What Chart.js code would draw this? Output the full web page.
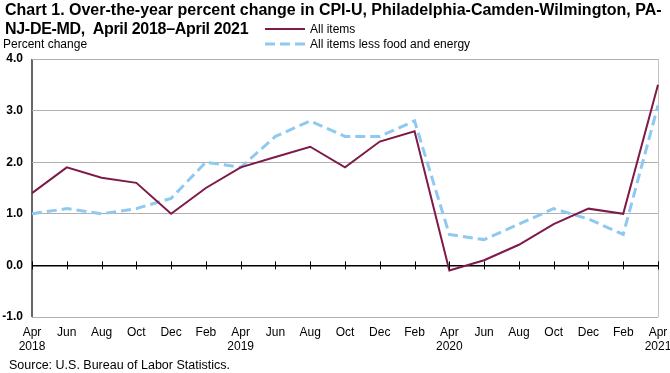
<!DOCTYPE html>
<html>
<head>
<meta charset="utf-8">
<script src="https://cdn.jsdelivr.net/npm/chart.js@4/dist/chart.umd.min.js"></script>
<style>
  body { margin: 0; background: #fff; font-family: "Liberation Sans", Arial, sans-serif; color: #000; }
  #wrap { position: relative; width: 670px; height: 373px; overflow: hidden; }
  #chart { position: absolute; left: 0; top: 0; }
  .title { position: absolute; left: 5px; top: 0px; font-weight: bold; font-size: 16px; line-height: 19px; white-space: nowrap; }
  .title span { letter-spacing: -0.3px; }
  .ylab { position: absolute; left: 3px; top: 37px; font-size: 12px; }
  .source { position: absolute; left: 9px; top: 358px; font-size: 12.5px; }
  #legend { position: absolute; left: 265px; top: 21px; font-size: 12px; }
  #legend .row { height: 15px; display: flex; align-items: center; }
  #legend canvas { margin-right: 5px; }
</style>
</head>
<body>
<div id="wrap">
  <canvas id="chart" width="670" height="373"></canvas>
  <div class="title">Chart 1. Over-the-year percent change in CPI-U, Philadelphia-Camden-Wilmington, PA-<br><span>NJ-DE-MD,&nbsp; April 2018–April 2021</span></div>
  <div class="ylab">Percent change</div>
  <div id="legend"></div>
  <div class="source">Source: U.S. Bureau of Labor Statistics.</div>
</div>
<script>
// ---------------- DATA ----------------
const categories = [
  ["Apr", "2018"], "Jun", "Aug", "Oct", "Dec", "Feb",
  ["Apr", "2019"], "Jun", "Aug", "Oct", "Dec", "Feb",
  ["Apr", "2020"], "Jun", "Aug", "Oct", "Dec", "Feb",
  ["Apr", "2021"]
];
const allItems = [1.4, 1.9, 1.7, 1.6, 1.0, 1.5, 1.9, 2.1, 2.3, 1.9, 2.4, 2.6, -0.1, 0.1, 0.4, 0.8, 1.1, 1.0, 3.5];
const lessFoodEnergy = [1.0, 1.1, 1.0, 1.1, 1.3, 2.0, 1.9, 2.5, 2.8, 2.5, 2.5, 2.8, 0.6, 0.5, 0.8, 1.1, 0.9, 0.6, 3.1];
const yTicks = [-1, 0, 1, 2, 3, 4];

// tick marks across the zero line
const zeroTicks = {
  id: "zeroTicks",
  afterDatasetsDraw(chart) {
    const { ctx, scales: { x, y } } = chart;
    const y0 = y.getPixelForValue(0);
    ctx.save();
    ctx.strokeStyle = "#000";
    ctx.lineWidth = 1;
    categories.forEach((c, i) => {
      const px = Math.round(x.getPixelForValue(i)) + 0.5;
      ctx.beginPath();
      ctx.moveTo(px, y0 - 4);
      ctx.lineTo(px, y0 + 4);
      ctx.stroke();
    });
    ctx.restore();
  }
};

const chart = new Chart(document.getElementById("chart").getContext("2d"), {
  type: "line",
  data: {
    labels: categories,
    datasets: [
      {
        label: "All items",
        data: allItems,
        borderColor: "#7e1a48",
        borderWidth: 2,
        pointRadius: 0,
        tension: 0
      },
      {
        label: "All items less food and energy",
        data: lessFoodEnergy,
        borderColor: "#8fc9f2",
        borderWidth: 3,
        borderDash: [10, 5],
        pointRadius: 0,
        tension: 0
      }
    ]
  },
  options: {
    responsive: false,
    animation: false,
    layout: { padding: { top: 59, right: 12, bottom: 16, left: 0 } },
    plugins: {
      legend: { display: false },
      title: { display: false },
      tooltip: { enabled: false }
    },
    scales: {
      x: {
        offset: false,
        grid: {
          drawTicks: false,
          color: ctx => (ctx.index === 0 ? "#666" : ctx.index === categories.length - 1 ? "#c0c0c0" : "transparent"),
          lineWidth: ctx => (ctx.index === 0 ? 2 : 1)
        },
        border: { display: false },
        ticks: {
          autoSkip: false,
          maxRotation: 0,
          padding: 9,
          color: "#000",
          font: { family: "Liberation Sans", size: 12, lineHeight: 1.15 }
        },
        afterFit: s => { s.height = 40; s.paddingLeft = 0; s.paddingRight = 0; }
      },
      y: {
        min: -1,
        max: 4,
        afterBuildTicks: axis => { axis.ticks = yTicks.map(v => ({ value: v })); },
        grid: {
          drawTicks: false,
          color: ctx => (ctx.tick.value === 0 ? "#000" : "#b0b0b0"),
          lineWidth: ctx => (ctx.tick.value === 0 ? 1.5 : 1)
        },
        border: { display: false },
        ticks: {
          padding: 9,
          color: "#000",
          font: { family: "Liberation Sans", size: 12, weight: "bold" },
          callback: v => v.toFixed(1)
        },
        afterFit: s => { s.width = 32; }
      }
    }
  },
  plugins: [zeroTicks]
});

// ---------------- LEGEND ----------------
const legend = document.getElementById("legend");
chart.data.datasets.forEach(ds => {
  const row = document.createElement("div");
  row.className = "row";
  const sw = document.createElement("canvas");
  sw.width = 40; sw.height = 6;
  const c = sw.getContext("2d");
  c.strokeStyle = ds.borderColor;
  c.lineWidth = ds.borderWidth;
  c.setLineDash(ds.borderDash || []);
  c.beginPath(); c.moveTo(0, 3); c.lineTo(40, 3); c.stroke();
  row.appendChild(sw);
  const t = document.createElement("span");
  t.textContent = ds.label;
  row.appendChild(t);
  legend.appendChild(row);
});
</script>
</body>
</html>
